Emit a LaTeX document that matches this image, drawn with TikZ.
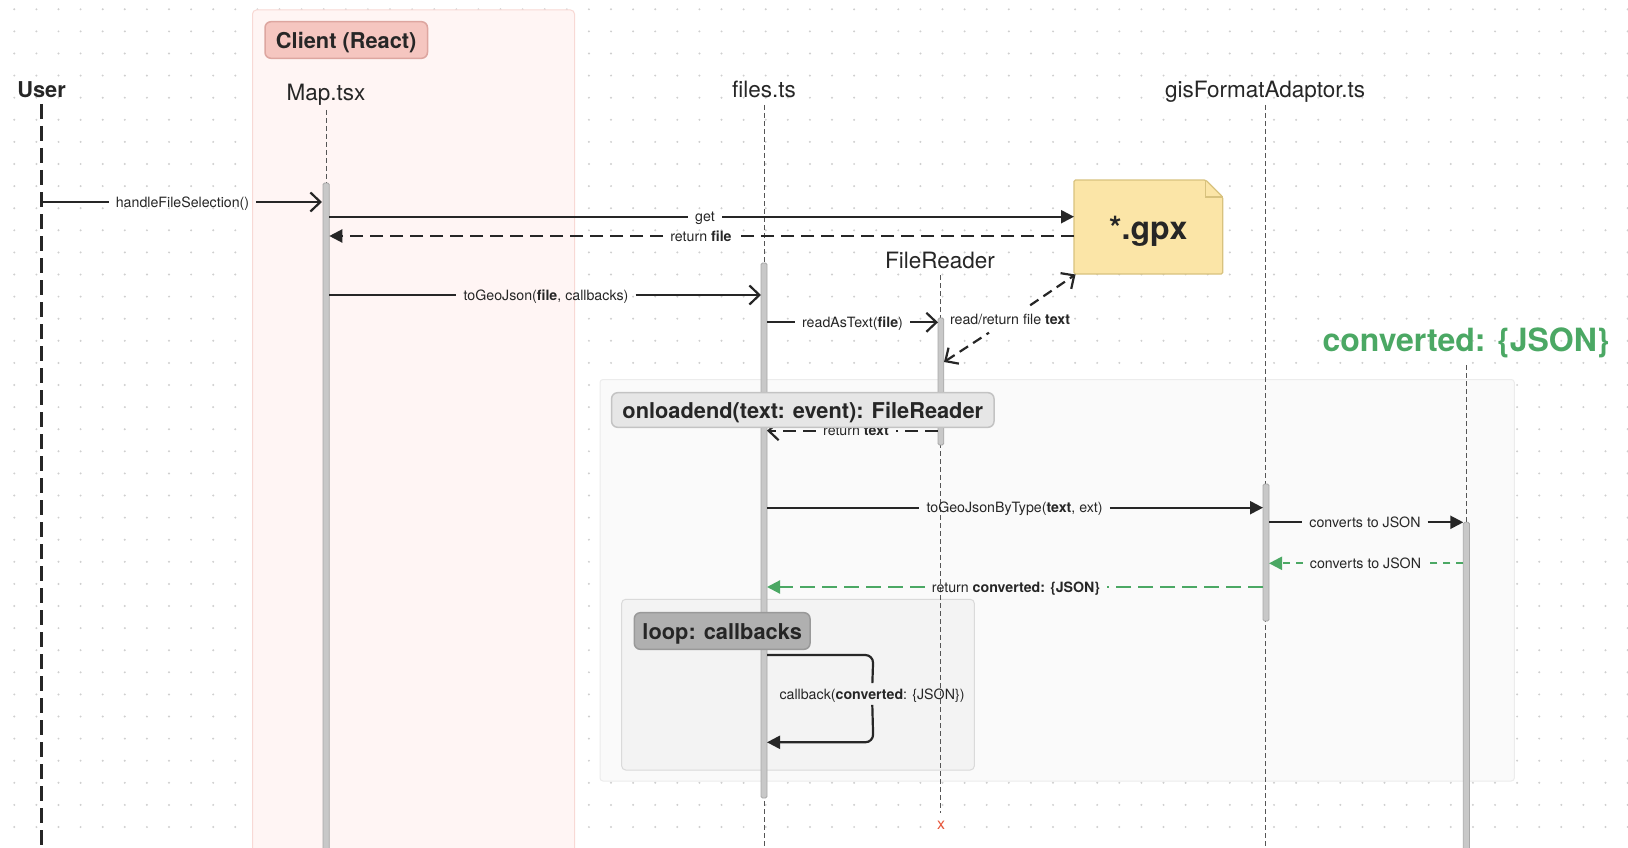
\documentclass[tikz,border=0pt]{standalone}
\usepackage{fontspec}
\setmainfont{TeX Gyre Heros}
\usetikzlibrary{arrows.meta}
\definecolor{txt}{HTML}{262626}
\definecolor{grn}{HTML}{4BA864}
\definecolor{lifec}{HTML}{555555}
\definecolor{barf}{HTML}{C8C8C8}
\definecolor{bard}{HTML}{A8A8A8}
\definecolor{dotc}{HTML}{CFCFCF}
\definecolor{clientbg}{HTML}{FFF5F4}
\definecolor{clientbd}{HTML}{F8D9D5}
\definecolor{clientlf}{HTML}{F5C6C0}
\definecolor{clientld}{HTML}{DDA6A0}
\definecolor{grpbg}{HTML}{FAFAFA}
\definecolor{grpbd}{HTML}{ECECEC}
\definecolor{grplf}{HTML}{E6E6E6}
\definecolor{grpld}{HTML}{C3C3C3}
\definecolor{loopbg}{HTML}{F3F3F3}
\definecolor{loopbd}{HTML}{DADADA}
\definecolor{looplf}{HTML}{B0B0B0}
\definecolor{loopld}{HTML}{999999}
\definecolor{gpxf}{HTML}{FBE5A7}
\definecolor{gpxd}{HTML}{D8C27E}
\definecolor{xred}{HTML}{E8553A}
\tikzset{
  openarr/.tip={Straight Barb[length=10pt,width=19pt]},
  fillarr/.tip={Triangle[length=13pt,width=13pt]},
  lbl/.style={font=\fontsize{14.2}{16}\selectfont, text=txt, inner xsep=7pt, inner ysep=3pt, text height=10.2pt, text depth=0pt},
  hdr/.style={font=\fontsize{22.5}{26}\selectfont, text=txt, inner sep=0pt, text height=16.2pt, text depth=0pt},
  tagtxt/.style={font=\fontsize{21.8}{26}\selectfont\bfseries, text=txt, inner sep=0pt, text height=15.7pt, text depth=0pt},
  msg/.style={draw=txt, line width=2.2pt},
  dmsg/.style={msg, dash pattern=on 13pt off 7pt},
  gmsg/.style={draw=grn, line width=2.2pt, dash pattern=on 15pt off 7pt},
  life/.style={draw=lifec, line width=1pt, dash pattern=on 5pt off 3pt},
  barst/.style={fill=barf, draw=bard, line width=0.8pt, rounded corners=1.5pt},
}
\begin{document}
\begin{tikzpicture}[x=1pt,y=-1pt]
\useasboundingbox (0,0) rectangle (1628,848);
\fill[white] (0,0) rectangle (1628,848);
% dot grid
\foreach \i in {0,...,73}{\foreach \j in {0,...,38}{\fill[dotc] (14.3+22.1*\i,9.3+22.1*\j) circle (1.1);}}
% client region
\draw[fill=clientbg, draw=clientbd, line width=1pt, rounded corners=4pt] (252.5,10) rectangle (574.5,858);
\draw[fill=clientlf, draw=clientld, line width=1.5pt, rounded corners=6pt] (265,21.7) rectangle (427.5,58.3);
\node[tagtxt] (client) at (346.2,40.8) {Client (React)};
% group boxes
\draw[fill=grpbg, draw=grpbd, line width=1pt, rounded corners=3pt] (600,379.5) rectangle (1514.3,781);
\draw[fill=loopbg, draw=loopbd, line width=1pt, rounded corners=4pt] (621.7,599.3) rectangle (974.3,770);
% headers
\node[hdr, font=\fontsize{21.8}{26}\selectfont\bfseries, text height=15.7pt] (userH) at (41.5,89.5) {User};
\node[hdr] (mapH) at (326,92.5) {Map.tsx};
\node[hdr] (filesH) at (764,89.3) {files.ts};
\node[hdr] (frH) at (940,260.5) {FileReader};
\node[hdr] (gisH) at (1265,89.3) {gisFormatAdaptor.ts};
\node[hdr, font=\fontsize{32}{36}\selectfont\bfseries, text=grn, text height=23pt] (convH) at (1466,340) {converted: \{JSON\}};
% lifelines
\draw[draw=txt, line width=2.6pt, dash pattern=on 15pt off 7pt] (41.3,104) -- (41.3,852);
\draw[life] (326,110) -- (326,183);
\draw[life] (764,105) -- (764,852);
\draw[life] (940.8,275) -- (940.8,813);
\draw[life] (1265.8,105) -- (1265.8,852);
\draw[life] (1466.4,365) -- (1466.4,852);
\node[text=xred, font=\fontsize{16}{16}\selectfont, inner sep=0pt] (frx) at (941,825) {x};
% activation bars
\draw[barst] (323,183) rectangle (329.3,856);
\draw[barst] (761,263) rectangle (767,798);
\draw[barst] (938,318) rectangle (943.8,445);
\draw[barst] (1263,484) rectangle (1269,621);
\draw[barst] (1463.3,522.3) rectangle (1469.5,856);
% gpx note
\draw[fill=gpxf, draw=gpxd, line width=1.2pt, rounded corners=1.5pt] (1074,180) -- (1205.7,180) -- (1222.7,197) -- (1222.7,274) -- (1074,274) -- cycle;
\draw[draw=gpxd, line width=1.2pt] (1205.7,180) -- (1205.7,197) -- (1222.7,197);
\node[font=\fontsize{32}{36}\selectfont\bfseries, text=txt, inner sep=0pt] (gpx) at (1148.35,231) {*.gpx};
% coordinates
\coordinate (m1a) at (41.3,202);   \coordinate (m1b) at (322,202);
\coordinate (m2a) at (329.3,216.7);\coordinate (m2b) at (1074,216.7);
\coordinate (m3a) at (1074,236);   \coordinate (m3b) at (329.3,236);
\coordinate (m4a) at (329.3,295);  \coordinate (m4b) at (761,295);
\coordinate (m5a) at (767,322.3);  \coordinate (m5b) at (938,322.3);
\coordinate (m6a) at (944,362);    \coordinate (m6b) at (1075.5,274.5);
\coordinate (m7a) at (938,430.7);  \coordinate (m7b) at (767,430.7);
\coordinate (m8a) at (767,507.7);  \coordinate (m8b) at (1263,507.7);
\coordinate (m9a) at (1269,522.3); \coordinate (m9b) at (1463.3,522.3);
\coordinate (m10a) at (1463.3,563.3); \coordinate (m10b) at (1269,563.3);
\coordinate (m11a) at (1263,587); \coordinate (m11b) at (767,587);
\coordinate (m12a) at (767,655); \coordinate (m12c) at (873.3,655);
\coordinate (m12d) at (873.3,742.3); \coordinate (m12b) at (767,742.3);
% messages
\node[lbl] (l1) at (182.5,202) {handleFileSelection()};
\draw[msg] (m1a) -- (l1); \draw[msg, -{openarr}] (l1) -- (m1b);
\node[lbl] (l2) at (705,216.7) {get};
\draw[msg] (m2a) -- (l2); \draw[msg, -{fillarr}] (l2) -- (m2b);
\node[lbl] (l3) at (701,236) {return \textbf{file}};
\draw[dmsg] (m3a) -- (l3); \draw[dmsg, -{fillarr}] (l3) -- (m3b);
\node[lbl] (l4) at (546,295) {toGeoJson(\textbf{file}, callbacks)};
\draw[msg] (m4a) -- (l4); \draw[msg, -{openarr}] (l4) -- (m4b);
\node[lbl] (l5) at (852.5,322.3) {readAsText(\textbf{file})};
\draw[msg] (m5a) -- (l5); \draw[msg, -{openarr}] (l5) -- (m5b);
\node[lbl, minimum height=27pt] (l6) at (1010,319) {read/return file \textbf{text}};
\draw[msg, dash pattern=on 10pt off 6pt, {openarr}-] (m6a) -- (l6); \draw[msg, dash pattern=on 10pt off 6pt, -{openarr}] (l6) -- (m6b);
\node[lbl] (l7) at (856,430.7) {return \textbf{text}};
\draw[dmsg] (m7a) -- (l7); \draw[dmsg, -{openarr}] (l7) -- (m7b);
\node[lbl] (l8) at (1014.6,507.7) {toGeoJsonByType(\textbf{text}, ext)};
\draw[msg] (m8a) -- (l8); \draw[msg, -{fillarr}] (l8) -- (m8b);
\node[lbl] (l9) at (1365,522.3) {converts to JSON};
\draw[msg] (m9a) -- (l9); \draw[msg, -{fillarr}] (l9) -- (m9b);
\node[lbl] (l10) at (1365.5,563.3) {converts to JSON};
\draw[gmsg, dash pattern=on 7pt off 6pt] (m10a) -- (l10); \draw[gmsg, dash pattern=on 7pt off 6pt, -{fillarr}] (l10) -- (m10b);
\node[lbl] (l11) at (1016,587) {return \textbf{converted: \{JSON\}}};
\draw[gmsg] (m11a) -- (l11); \draw[gmsg, -{fillarr}] (l11) -- (m11b);
\node[lbl, inner ysep=5.5pt] (l12) at (872,694) {callback(\textbf{converted}: \{JSON\})};
\draw[msg, rounded corners=8pt] (m12a) -- (m12c) -- (l12);
\draw[msg, rounded corners=8pt, -{fillarr}] (l12) -- (m12d) -- (m12b);
% group tags
\draw[fill=grplf, draw=grpld, line width=1.5pt, rounded corners=6pt] (611.6,392.7) rectangle (994,427.3);
\node[tagtxt] (onl) at (802.8,410.8) {onloadend(text: event): FileReader};
\draw[fill=looplf, draw=loopld, line width=1.5pt, rounded corners=6pt] (634.3,612.7) rectangle (810,649.3);
\node[tagtxt] (loopT) at (722.2,631.7) {loop: callbacks};
\end{tikzpicture}
\end{document}
